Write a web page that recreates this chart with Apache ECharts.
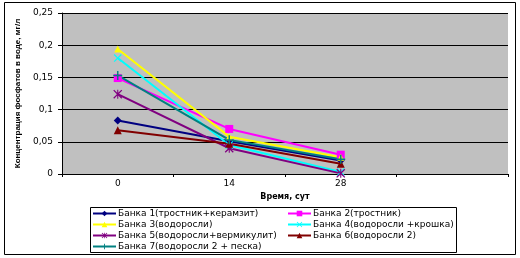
<!DOCTYPE html>
<html>
<head>
<meta charset="utf-8">
<script src="https://cdn.jsdelivr.net/npm/echarts@6/dist/echarts.min.js"></script>
<style>
  html, body { margin: 0; padding: 0; background: #fff; }
  #chart { width: 520px; height: 258px; }
</style>
</head>
<body>
<div id="chart"></div>
<script>
// время, сут (последняя категория пустая, как в оригинале)
var days = ['0', '14', '28', ''];
var yTicks = [0, 0.05, 0.1, 0.15, 0.2, 0.25];

var bank1 = [0.083, 0.051, 0.021];
var bank2 = [0.149, 0.070, 0.030];
var bank3 = [0.194, 0.058, 0.026];
var bank4 = [0.180, 0.045, 0.003];
var bank5 = [0.124, 0.040, 0.001];
var bank6 = [0.068, 0.047, 0.016];
var bank7 = [0.153, 0.053, 0.023];

var names = [
  'Банка 1(тростник+керамзит)',
  'Банка 2(тростник)',
  'Банка 3(водоросли)',
  'Банка 4(водоросли +крошка)',
  'Банка 5(водоросли+вермикулит)',
  'Банка 6(водоросли 2)',
  'Банка 7(водоросли 2 + песка)'
];

// маркеры как в Excel
var xMark = 'path://M0,1L1,0L5,4L9,0L10,1L6,5L10,9L9,10L5,6L1,10L0,9L4,5Z';
var plusMark = 'path://M4.2,0h1.6v4.2h4.2v1.6h-4.2v4.2h-1.6v-4.2h-4.2v-1.6h4.2Z';
var starMark = 'path://M0,1L1,0L5,4L9,0L10,1L6,5L10,9L9,10L5,6L1,10L0,9L4,5Z M4.4,0h1.2v10h-1.2Z';

function line(name, data, color, symbol, size) {
  return {
    name: name,
    type: 'line',
    data: data,
    symbol: symbol,
    symbolSize: size,
    lineStyle: { color: color, width: 2 },
    itemStyle: { color: color },
    emphasis: { disabled: true }
  };
}

var chart = echarts.init(document.getElementById('chart'));
var font = 'Liberation Sans, Arial, sans-serif';
var wide = 'DejaVu Sans, Verdana, sans-serif';

var legendBase = {
  orient: 'vertical',
  top: 209,
  itemGap: 2,
  itemWidth: 23,
  itemHeight: 7,
  textStyle: { fontSize: 9, fontFamily: wide, color: '#000', padding: [0, 0, 0, -3] },
  padding: 0
};

chart.setOption({
  animation: false,
  backgroundColor: '#fff',
  textStyle: { fontFamily: font },
  grid: {
    left: 62,
    right: 12,
    top: 13,
    bottom: 84,
    show: true,
    backgroundColor: '#C0C0C0',
    borderWidth: 0
  },
  xAxis: {
    type: 'category',
    data: days,
    boundaryGap: true,
    name: 'Время, сут',
    nameLocation: 'middle',
    nameGap: 19,
    nameTextStyle: { fontSize: 8, fontFamily: wide, fontWeight: 'bold', color: '#000' },
    axisLine: { lineStyle: { color: '#000', width: 1 } },
    axisTick: { show: true, length: 3, lineStyle: { color: '#000' } },
    axisLabel: { fontSize: 9, fontFamily: wide, color: '#000', margin: 5 }
  },
  yAxis: {
    type: 'value',
    min: 0,
    max: 0.25,
    interval: 0.05,
    name: 'Концентрация фосфатов в воде, мг/л',
    nameLocation: 'middle',
    nameGap: 40,
    nameTextStyle: { fontSize: 8, fontWeight: 'bold', color: '#000' },
    axisLine: { show: true, lineStyle: { color: '#000', width: 1 } },
    axisTick: { show: true, length: 4, lineStyle: { color: '#000' } },
    splitLine: { lineStyle: { color: '#000', width: 1 } },
    axisLabel: {
      fontSize: 9,
      fontFamily: wide,
      color: '#000',
      margin: 9,
      formatter: function (v) { return String(+v.toFixed(2)).replace('.', ','); }
    }
  },
  legend: [
    Object.assign({ data: [names[0], names[2], names[4], names[6]], left: 92 }, legendBase),
    Object.assign({ data: [names[1], names[3], names[5]], left: 287 }, legendBase)
  ],
  graphic: [{
    type: 'rect',
    shape: { x: 4.5, y: 2.5, width: 511, height: 252 },
    style: { fill: 'none', stroke: '#000', lineWidth: 1 },
    silent: true
  }, {
    type: 'rect',
    shape: { x: 90.5, y: 207.5, width: 366, height: 45 },
    style: { fill: 'none', stroke: '#000', lineWidth: 1 },
    silent: true
  }],
  series: [
    line(names[0], bank1, '#000080', 'diamond', 8),
    line(names[1], bank2, '#FF00FF', 'rect', 8),
    line(names[2], bank3, '#FFFF00', 'triangle', 7),
    line(names[3], bank4, '#00FFFF', xMark, 8),
    line(names[4], bank5, '#800080', starMark, 9),
    line(names[5], bank6, '#800000', 'triangle', 8),
    line(names[6], bank7, '#008080', plusMark, 9)
  ]
});
</script>
</body>
</html>
